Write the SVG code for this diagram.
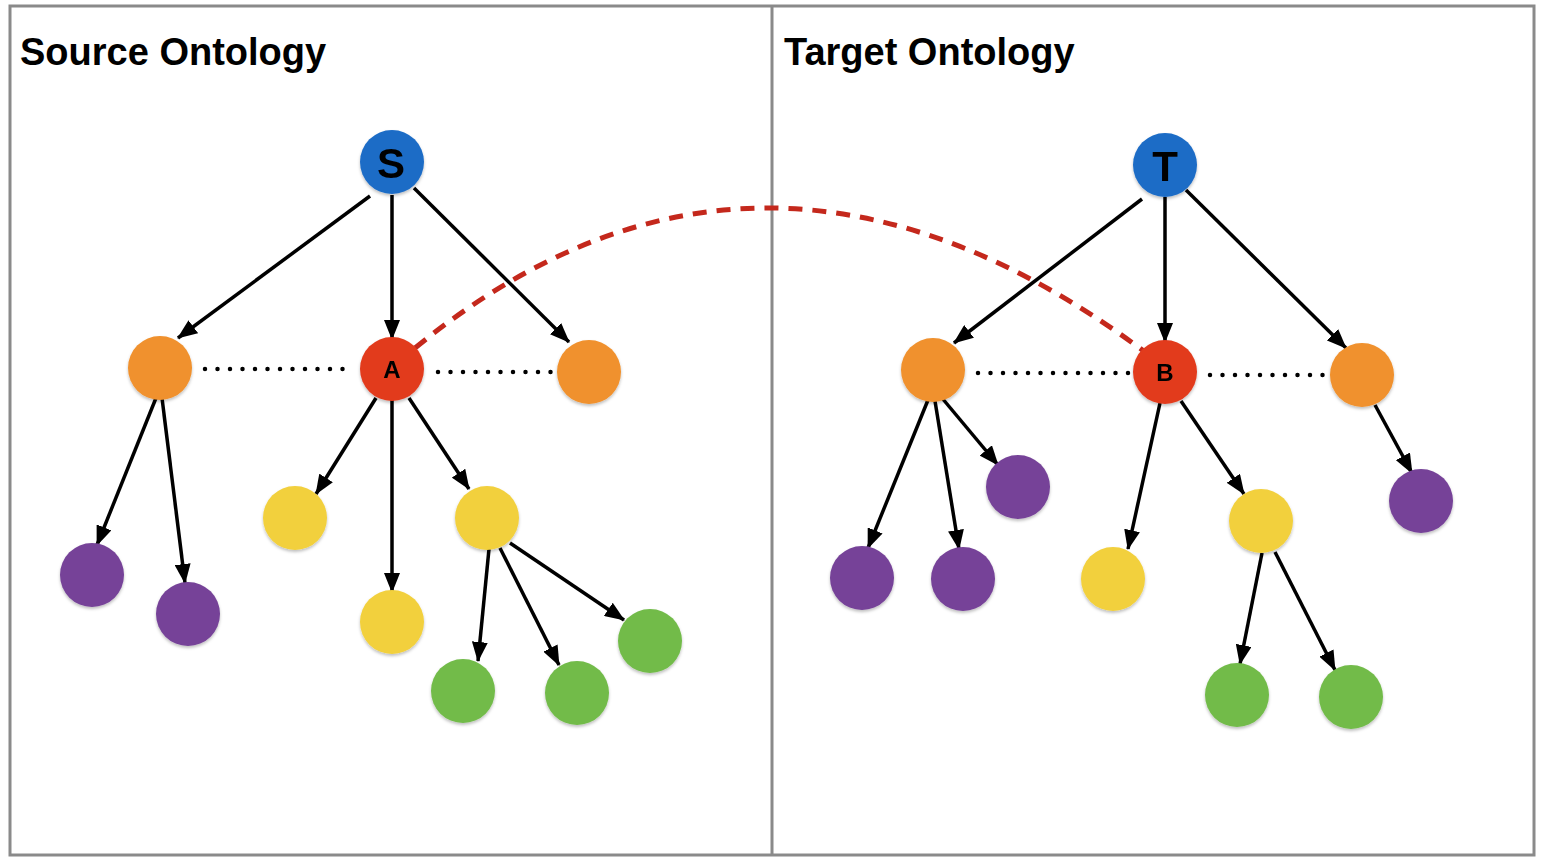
<svg xmlns="http://www.w3.org/2000/svg" width="1542" height="864" viewBox="0 0 1542 864">
<style>
.title{font-family:"Liberation Sans",Arial,sans-serif;font-weight:bold;font-size:38px;fill:#000}
.edge{stroke:#000;stroke-width:3.5;fill:none;marker-end:url(#arr)}
.dots{stroke:#000;stroke-width:4.5;stroke-linecap:round;stroke-dasharray:0 12.5;fill:none}
.map{stroke:#c4281c;stroke-width:5;stroke-dasharray:14 10;fill:none}
.lbl{font-family:"Liberation Sans",Arial,sans-serif;font-weight:bold;fill:#000;text-anchor:middle}
.blue{fill:#1c6cc6}.orange{fill:#f0912d}.red{fill:#e23b1e}.yellow{fill:#f2d03d}.purple{fill:#764398}.green{fill:#72bb4a}
</style>
<defs>
<marker id="arr" markerUnits="userSpaceOnUse" markerWidth="20" markerHeight="16" viewBox="0 0 20 16" refX="19" refY="8" orient="auto">
<path d="M0,0 L20,8 L0,16 Z" fill="#000"/>
</marker>
<filter id="sh" x="-20%" y="-20%" width="140%" height="140%">
<feDropShadow dx="0" dy="2" stdDeviation="1.5" flood-color="#000" flood-opacity="0.25"/>
</filter>
</defs>
<rect x="10" y="6" width="1524" height="849" fill="#fff" stroke="#8a8a8a" stroke-width="3"/>
<line x1="772" y1="6" x2="772" y2="855" stroke="#8a8a8a" stroke-width="3"/>
<text class="title" x="20" y="65">Source Ontology</text>
<text class="title" x="784" y="65">Target Ontology</text>
<g id="connectors">
<path class="edge" d="M370,196 L178,338"/>
<path class="edge" d="M392,195 L392,339"/>
<path class="edge" d="M414,188 L569,342"/>
<path class="edge" d="M156,398 L97,545"/>
<path class="edge" d="M162,398 L185,583"/>
<path class="edge" d="M376,398 L316,494"/>
<path class="edge" d="M392,400 L392,592"/>
<path class="edge" d="M409,398 L469,489"/>
<path class="edge" d="M489,549 L478,661"/>
<path class="edge" d="M500,548 L559,665"/>
<path class="edge" d="M510,543 L624,620"/>
<path class="edge" d="M1142,199 L954,343"/>
<path class="edge" d="M1165,197 L1165,342"/>
<path class="edge" d="M1186,190 L1346,348"/>
<path class="edge" d="M928,400 L868,548"/>
<path class="edge" d="M935,401 L959,549"/>
<path class="edge" d="M942,398 L998,465"/>
<path class="edge" d="M1160,403 L1128,549"/>
<path class="edge" d="M1181,401 L1244,494"/>
<path class="edge" d="M1375,405 L1412,473"/>
<path class="edge" d="M1262,553 L1240,664"/>
<path class="edge" d="M1275,552 L1335,670"/>
<path class="dots" d="M205,369 L355,369"/>
<path class="dots" d="M438,372 L552,372"/>
<path class="dots" d="M978,373 L1130,373"/>
<path class="dots" d="M1210,375 L1326,375"/>
<path class="map" d="M415,348 Q760,66 1145,352"/>
</g>
<g id="n-S" filter="url(#sh)"><circle class="blue" cx="392" cy="162" r="32"/><text class="lbl" x="391" y="178" font-size="42">S</text></g>
<g id="n-O1" filter="url(#sh)"><circle class="orange" cx="160" cy="368" r="32"/></g>
<g id="n-A" filter="url(#sh)"><circle class="red" cx="392" cy="369" r="32"/><text class="lbl" x="392" y="378" font-size="24">A</text></g>
<g id="n-O2" filter="url(#sh)"><circle class="orange" cx="589" cy="372" r="32"/></g>
<g id="n-P1" filter="url(#sh)"><circle class="purple" cx="92" cy="575" r="32"/></g>
<g id="n-P2" filter="url(#sh)"><circle class="purple" cx="188" cy="614" r="32"/></g>
<g id="n-Y1" filter="url(#sh)"><circle class="yellow" cx="295" cy="518" r="32"/></g>
<g id="n-Y2" filter="url(#sh)"><circle class="yellow" cx="392" cy="622" r="32"/></g>
<g id="n-Y3" filter="url(#sh)"><circle class="yellow" cx="487" cy="518" r="32"/></g>
<g id="n-G1" filter="url(#sh)"><circle class="green" cx="463" cy="691" r="32"/></g>
<g id="n-G2" filter="url(#sh)"><circle class="green" cx="577" cy="693" r="32"/></g>
<g id="n-G3" filter="url(#sh)"><circle class="green" cx="650" cy="641" r="32"/></g>
<g id="n-T" filter="url(#sh)"><circle class="blue" cx="1165" cy="165" r="32"/><text class="lbl" x="1165" y="181" font-size="42">T</text></g>
<g id="n-O3" filter="url(#sh)"><circle class="orange" cx="933" cy="370" r="32"/></g>
<g id="n-B" filter="url(#sh)"><circle class="red" cx="1165" cy="372" r="32"/><text class="lbl" x="1165" y="381" font-size="24">B</text></g>
<g id="n-O4" filter="url(#sh)"><circle class="orange" cx="1362" cy="375" r="32"/></g>
<g id="n-P3" filter="url(#sh)"><circle class="purple" cx="862" cy="578" r="32"/></g>
<g id="n-P4" filter="url(#sh)"><circle class="purple" cx="963" cy="579" r="32"/></g>
<g id="n-P5" filter="url(#sh)"><circle class="purple" cx="1018" cy="487" r="32"/></g>
<g id="n-P6" filter="url(#sh)"><circle class="purple" cx="1421" cy="501" r="32"/></g>
<g id="n-Y4" filter="url(#sh)"><circle class="yellow" cx="1113" cy="579" r="32"/></g>
<g id="n-Y5" filter="url(#sh)"><circle class="yellow" cx="1261" cy="521" r="32"/></g>
<g id="n-G4" filter="url(#sh)"><circle class="green" cx="1237" cy="695" r="32"/></g>
<g id="n-G5" filter="url(#sh)"><circle class="green" cx="1351" cy="697" r="32"/></g>
</svg>
